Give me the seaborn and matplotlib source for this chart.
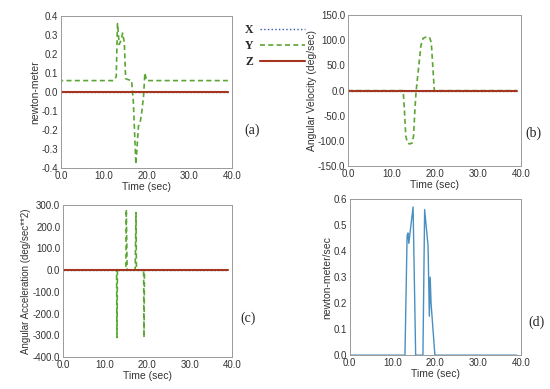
import matplotlib
matplotlib.use("Agg")
import matplotlib.pyplot as plt
from matplotlib.ticker import MultipleLocator, FormatStrFormatter
import seaborn as sns

# flat X / Z components
flat_t = [0.0, 39.0]
flat_v = [0.0, 0.0]

# (a) torque, Y component
a_t = [0, 0.05, 12.3, 12.9, 13.2, 13.6, 14.0, 14.4, 14.8, 15.1, 15.7, 16.5, 16.9,
       17.5, 18.1, 18.5, 18.9, 19.3, 19.6, 20.0, 39.0]
a_y = [0, 0.06, 0.06, 0.08, 0.36, 0.25, 0.27, 0.31, 0.26, 0.07, 0.065, 0.06, -0.05,
       -0.38, -0.18, -0.16, -0.10, -0.02, 0.10, 0.06, 0.06]

# (b) angular velocity, Y component
b_t = [0, 12.7, 13.0, 13.3, 13.7, 14.2, 14.8, 15.1, 15.4, 15.7, 16.2, 16.8, 17.3,
       17.8, 18.8, 19.2, 19.6, 19.9, 39.0]
b_y = [0, 0, -40, -90, -104, -106, -104, -90, -40, 0, 40, 90, 104,
       106, 106, 95, 40, 0, 0]

# (c) angular acceleration, Y component
c_t = [0, 12.7, 12.8, 12.9, 14.9, 15.0, 15.2, 17.1, 17.3, 17.4, 19.1, 19.2, 19.3, 39.0]
c_y = [0, 0, -310, 0, 0, 280, 0, 0, 265, 0, 0, -310, 0, 0]

# (d) torque rate magnitude
d_t = [0, 12.9, 13.4, 13.6, 13.8, 14.8, 15.4, 17.1, 17.5, 18.3, 18.6, 18.8, 19.0, 19.9, 39.0]
d_y = [0, 0, 0.46, 0.47, 0.43, 0.57, 0, 0, 0.56, 0.42, 0.15, 0.30, 0.20, 0, 0]

sns.set_style("white")
plt.rcParams["font.family"] = ["Liberation Sans", "DejaVu Sans"]

fig = plt.figure(figsize=(5.5, 3.89), dpi=100)

c_x, c_yc, c_z = "#3557b5", "#5aa632", "#a3361c"

boxes = {
    "a": [0.111, 0.568, 0.311, 0.391],
    "b": [0.633, 0.573, 0.315, 0.388],
    "c": [0.1145, 0.082, 0.307, 0.391],
    "d": [0.636, 0.087, 0.311, 0.401],
}


def style(ax, ylo, yhi, ystep, yfmt, ylabel, letter, lx, ly, ysize=7.5):
    ax.set_xlim(0, 40)
    ax.set_ylim(ylo, yhi)
    ax.xaxis.set_major_locator(MultipleLocator(10))
    ax.xaxis.set_minor_locator(MultipleLocator(2))
    ax.yaxis.set_major_locator(MultipleLocator(ystep))
    ax.yaxis.set_minor_locator(MultipleLocator(ystep / 2))
    ax.xaxis.set_major_formatter(FormatStrFormatter("%.1f"))
    ax.yaxis.set_major_formatter(FormatStrFormatter(yfmt))
    ax.tick_params(which="both", direction="in", labelsize=7, colors="#888888",
                   labelcolor="#333333", length=2.5, width=0.6, pad=2)
    ax.tick_params(which="minor", length=1.5)
    for s in ax.spines.values():
        s.set_color("#999999")
        s.set_linewidth(0.7)
    ax.set_xlabel("Time (sec)", fontsize=7.5, color="#333333", labelpad=1)
    ax.set_ylabel(ylabel, fontsize=ysize, color="#333333", labelpad=1)
    if ax.get_legend() is not None:
        ax.get_legend().remove()
    fig.text(lx / 550, 1 - ly / 389, "(" + letter + ")", fontsize=10,
             family="Liberation Serif", ha="left", va="center")


def three(ax, t, y):
    sns.lineplot(x=flat_t, y=flat_v, ax=ax, color=c_x, lw=1.0, linestyle=":", label="X")
    sns.lineplot(x=t, y=y, ax=ax, color=c_yc, lw=1.2, linestyle=(0, (3, 2)), label="Y")
    sns.lineplot(x=flat_t, y=flat_v, ax=ax, color=c_z, lw=1.5, label="Z")


ax_a = fig.add_axes(boxes["a"])
three(ax_a, a_t, a_y)
handles, labels = ax_a.get_legend_handles_labels()
style(ax_a, -0.4, 0.4, 0.1, "%.1f", "newton-meter", "a", 244, 130)

ax_b = fig.add_axes(boxes["b"])
three(ax_b, b_t, b_y)
style(ax_b, -150, 150, 50, "%.1f", "Angular Velocity (deg/sec)", "b", 525, 133)

ax_c = fig.add_axes(boxes["c"])
three(ax_c, c_t, c_y)
style(ax_c, -400, 300, 100, "%.1f", "Angular Acceleration (deg/sec**2)", "c", 240, 318, ysize=7)

ax_d = fig.add_axes(boxes["d"])
sns.lineplot(x=d_t, y=d_y, ax=ax_d, color="#4a8fbf", lw=1.0)
style(ax_d, 0, 0.6, 0.1, "%.1f", "newton-meter/sec", "d", 528, 322)

fig.legend(handles, labels, loc="upper left", bbox_to_anchor=(240 / 550, 1 - 19 / 389),
           frameon=False, markerfirst=False, handlelength=3.8, labelspacing=0.35,
           handletextpad=0.6, borderaxespad=0,
           prop={"family": "Liberation Serif", "weight": "bold", "size": 8.5})

fig.savefig("out.png", dpi=100)
